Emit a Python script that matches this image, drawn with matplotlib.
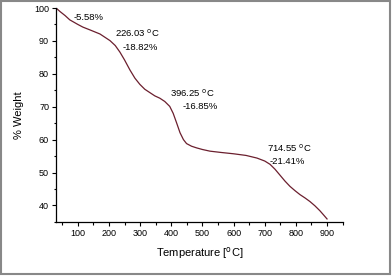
import matplotlib.pyplot as plt
from matplotlib.patches import Rectangle
from matplotlib.ticker import MultipleLocator

plt.rcParams['font.family'] = ['Liberation Sans', 'DejaVu Sans']

# TGA curve
temperature = [30, 43, 59, 74, 100, 116, 140, 171, 203, 220, 235, 250, 267, 283, 299, 315, 331,
               347, 363, 379, 395, 406, 417, 428, 439, 449, 465, 481, 500, 524, 560, 600,
               640, 675, 700, 717, 733, 749, 765, 781, 797, 813, 829, 845, 861, 877, 890, 900]
weight = [100, 98.9, 97.7, 96.4, 95.0, 94.2, 93.3, 92.1, 90.1, 88.6, 86.6, 84.2, 81.2, 78.7, 76.8, 75.3, 74.3,
          73.3, 72.6, 71.6, 70.1, 68.0, 65.1, 62.1, 60.0, 58.8, 58.0, 57.5, 57.0, 56.5, 56.1, 55.7,
          55.2, 54.4, 53.5, 52.5, 51.0, 49.2, 47.4, 45.8, 44.5, 43.3, 42.3, 41.2, 39.9, 38.4, 37.0, 35.9]

labels = ['-5.58%', '226.03 $^{\\mathrm{o}}$C', '-18.82%', '396.25 $^{\\mathrm{o}}$C',
          '-16.85%', '714.55 $^{\\mathrm{o}}$C', '-21.41%']
label_x = [74, 115, 123, 170, 183, 267, 270]
label_y = [18, 33, 47, 93, 107, 148, 161]

fig = plt.figure(figsize=(3.92, 2.76), dpi=100)
ax = fig.add_axes([0.143, 0.196, 0.731, 0.775])
ax.plot(temperature, weight, color='#6b1f2e', linewidth=0.9)

ax.set_xlim(30, 950)
ax.set_ylim(35, 100)
ax.xaxis.set_minor_locator(MultipleLocator(50))
ax.yaxis.set_major_locator(MultipleLocator(10))
ax.yaxis.set_minor_locator(MultipleLocator(5))
ax.set_xticks(range(100, 1000, 100))
ax.tick_params(which='major', direction='out', length=3, width=0.8, labelsize=6.5, pad=2)
ax.tick_params(which='minor', direction='out', length=1.8, width=0.8)
for s in ['top', 'right']:
    ax.spines[s].set_visible(False)
for s in ['left', 'bottom']:
    ax.spines[s].set_linewidth(0.9)

ax.set_xlabel('Temperature [$^{\\mathrm{o}}$C]', fontsize=8, labelpad=5)
ax.set_ylabel('% Weight', fontsize=8, labelpad=7)

for t, x, y in zip(labels, label_x, label_y):
    fig.text(x / 392, 1 - y / 276, t, fontsize=6.8, va='center', ha='left')

fig.patches.append(Rectangle((0.002, 0.008), 0.992, 0.988, transform=fig.transFigure,
                             fill=False, edgecolor='#888888', linewidth=1.5))

fig.savefig('out.png', dpi=100)
